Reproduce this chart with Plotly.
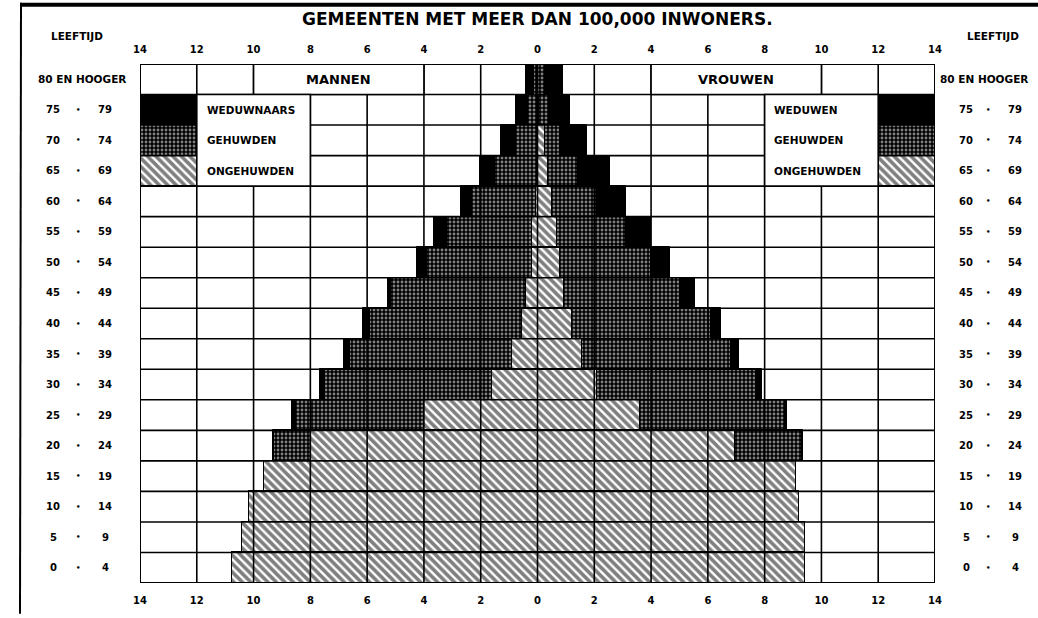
import numpy as np
import plotly.graph_objects as go

# ---------------- data ----------------
age_start = ["0", "5", "10", "15", "20", "25", "30", "35", "40", "45", "50", "55", "60", "65", "70", "75"]
age_end = ["4", "9", "14", "19", "24", "29", "34", "39", "44", "49", "54", "59", "64", "69", "74", "79"]
age_top = "80 EN HOOGER"

# men (percent), index 0 = 0-4 ... index 16 = 80 en hooger
men_ongehuwd = [10.75, 10.4, 10.15, 9.65, 7.96, 4.0, 1.6, 0.9, 0.55, 0.4, 0.2, 0.18, 0.05, 0.03, 0.02, 0.01, 0.01]
men_gehuwd = [0, 0, 0, 0, 1.32, 4.5, 5.9, 5.7, 5.35, 4.75, 3.7, 3.02, 2.24, 1.48, 0.72, 0.34, 0.1]
men_weduwnaar = [0, 0, 0, 0, 0.02, 0.15, 0.15, 0.2, 0.25, 0.13, 0.36, 0.43, 0.39, 0.5, 0.53, 0.39, 0.28]

# women (percent)
wom_ongehuwd = [9.42, 9.42, 9.2, 9.12, 6.94, 3.62, 2.08, 1.55, 1.2, 0.95, 0.8, 0.67, 0.5, 0.38, 0.28, 0.05, 0.02]
wom_gehuwd = [0, 0, 0, 0, 2.36, 5.08, 5.6, 5.25, 4.9, 4.08, 3.18, 2.43, 1.6, 1.03, 0.5, 0.37, 0.23]
wom_weduwe = [0, 0, 0, 0, 0.05, 0.1, 0.22, 0.3, 0.37, 0.53, 0.67, 0.88, 1.0, 1.13, 0.98, 0.71, 0.64]

x_ticks = [-14, -12, -10, -8, -6, -4, -2, 0, 2, 4, 6, 8, 10, 12, 14]
x_ticktext = ["14", "12", "10", "8", "6", "4", "2", "0", "2", "4", "6", "8", "10", "12", "14"]

title_text = "GEMEENTEN MET MEER DAN 100,000 INWONERS."

# ---------------- layout geometry ----------------
FONT = "DejaVu Sans"
W, H = 1038, 618
ML, MR, MT, MB = 140, 103, 64, 29
PW = W - ML - MR
PH = H - MT - MB


def px_x(p):
    return (p - ML) / PW


def px_y(p):
    return (H - MB - p) / PH


style_wed = dict(color="black", line=dict(color="black", width=1))
style_geh = dict(color="black", line=dict(color="black", width=1),
                 pattern=dict(shape=".", bgcolor="black", fgcolor="white",
                              size=4, solidity=0.4, fillmode="overlay"))
style_ong = dict(color="white", line=dict(color="black", width=1),
                 pattern=dict(shape="\\", bgcolor="white", fgcolor="black",
                              size=6, solidity=0.6, fillmode="overlay"))

rows = np.arange(len(men_ongehuwd))
m_ong = np.array(men_ongehuwd)
m_geh = np.array(men_gehuwd)
m_wed = np.array(men_weduwnaar)
w_ong = np.array(wom_ongehuwd)
w_geh = np.array(wom_gehuwd)
w_wed = np.array(wom_weduwe)

fig = go.Figure()


def seg(x, base, style, y=rows):
    fig.add_trace(go.Bar(orientation="h", y=y, x=x, base=base, width=1,
                         marker=style, hoverinfo="skip", showlegend=False))


# men (to the left)
seg(-m_ong, np.zeros_like(m_ong), style_ong)
seg(-m_geh, -m_ong, style_geh)
seg(-m_wed, -(m_ong + m_geh), style_wed)
# women (to the right)
seg(w_ong, np.zeros_like(w_ong), style_ong)
seg(w_geh, w_ong, style_geh)
seg(w_wed, w_ong + w_geh, style_wed)

# legend swatches
for base in (-14, 12):
    seg([2], [base], style_wed, y=[15])
    seg([2], [base], style_geh, y=[14])
    seg([2], [base], style_ong, y=[13])

# invisible trace to activate top axis
fig.add_trace(go.Scatter(x=[-14, 14], y=[0, 0], xaxis="x2", yaxis="y", mode="markers",
                         marker=dict(opacity=0), hoverinfo="skip", showlegend=False))

shapes = []
LW = 1.6
for v in range(-12, 13, 2):
    shapes.append(dict(type="line", xref="x", yref="y", x0=v, x1=v, y0=-0.5, y1=16.5,
                       line=dict(color="black", width=LW), layer="above"))
for k in range(len(rows) + 1):
    shapes.append(dict(type="line", xref="x", yref="y", x0=-14, x1=14, y0=k - 0.5, y1=k - 0.5,
                       line=dict(color="black", width=LW), layer="above"))
# white label boxes
for (x0, x1, y0, y1) in [(-10, -4, 15.5, 16.5), (4, 10, 15.5, 16.5),
                         (-12, -8, 12.5, 15.5), (8, 12, 12.5, 15.5)]:
    shapes.append(dict(type="rect", xref="x", yref="y", x0=x0, x1=x1, y0=y0, y1=y1,
                       fillcolor="white", line=dict(color="black", width=LW), layer="above"))
# plot border
shapes.append(dict(type="rect", xref="x", yref="y", x0=-14, x1=14, y0=-0.5, y1=16.5,
                   line=dict(color="black", width=2), layer="above"))
# page frame (top rule and left rule)
shapes.append(dict(type="rect", xref="paper", yref="paper", x0=px_x(20), x1=px_x(1040),
                   y0=px_y(6), y1=px_y(2), fillcolor="black", line=dict(width=0),
                   layer="above"))
shapes.append(dict(type="line", xref="paper", yref="paper", x0=px_x(21), x1=px_x(20),
                   y0=px_y(2), y1=px_y(620), line=dict(color="black", width=2)))

ann = []
bold = dict(family=FONT, color="black", weight="bold")


def text(x, y, s, size, xref="paper", yref="paper", xanchor="center"):
    ann.append(dict(x=x, y=y, xref=xref, yref=yref, text=s, showarrow=False,
                    xanchor=xanchor, yanchor="middle", font=dict(size=size, **bold)))


text(0.5, px_y(18), title_text, 17)
text(px_x(77), px_y(36), "LEEFTIJD", 10.5)
text(px_x(993), px_y(36), "LEEFTIJD", 10.5)

# age labels
for i, (a, b) in enumerate(zip(age_start, age_end)):
    text(px_x(53), i, a, 10, yref="y")
    text(px_x(78), i, "•", 7, yref="y")
    text(px_x(105), i, b, 10, yref="y")
    text(px_x(966), i, a, 10, yref="y")
    text(px_x(988), i, "•", 7, yref="y")
    text(px_x(1015), i, b, 10, yref="y")
text(px_x(82), 16, age_top, 10.5, yref="y")
text(px_x(984), 16, age_top, 10.5, yref="y")

# box labels
text(-7, 16, "MANNEN", 13, xref="x", yref="y")
text(7, 16, "VROUWEN", 13, xref="x", yref="y")
for yy, s in [(15, "WEDUWNAARS"), (14, "GEHUWDEN"), (13, "ONGEHUWDEN")]:
    text(-11.7, yy, s, 10.5, xref="x", yref="y", xanchor="left")
for yy, s in [(15, "WEDUWEN"), (14, "GEHUWDEN"), (13, "ONGEHUWDEN")]:
    text(8.25, yy, s, 10.5, xref="x", yref="y", xanchor="left")

tickfont = dict(size=10, **bold)
fig.update_layout(
    width=W, height=H,
    margin=dict(l=ML, r=MR, t=MT, b=MB, pad=0),
    paper_bgcolor="white", plot_bgcolor="white",
    barmode="overlay", bargap=0,
    shapes=shapes, annotations=ann,
    xaxis=dict(range=[-14, 14], tickvals=x_ticks, ticktext=x_ticktext, showgrid=False,
               zeroline=False, showline=False, ticks="", tickfont=tickfont,
               ticklabelstandoff=10, fixedrange=True),
    xaxis2=dict(range=[-14, 14], overlaying="x", side="top", tickvals=x_ticks,
                ticktext=x_ticktext, showgrid=False, zeroline=False, showline=False,
                ticks="", tickfont=tickfont, ticklabelstandoff=8, fixedrange=True),
    yaxis=dict(range=[-0.5, 16.5], showticklabels=False, showgrid=False, zeroline=False,
               showline=False, ticks="", fixedrange=True),
)

fig.write_html("out.html", config={"displayModeBar": False},
               post_script="document.body.style.margin='0px';")
